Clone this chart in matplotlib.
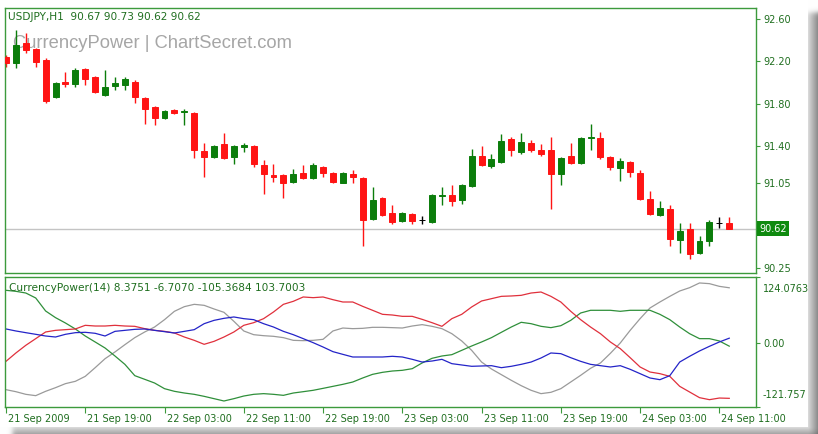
import numpy as np
import matplotlib.pyplot as plt
from matplotlib.transforms import ScaledTranslation, blended_transform_factory

# USDJPY H1 candles
opens = [92.24, 92.18, 92.37, 92.32, 92.21, 91.86, 92.01, 91.99, 92.13, 92.05,
         91.88, 91.97, 91.98, 92.01, 91.85, 91.77, 91.67, 91.74, 91.72, 91.71,
         91.35, 91.30, 91.42, 91.30, 91.39, 91.40, 91.22, 91.13, 91.13, 91.06,
         91.15, 91.10, 91.20, 91.15, 91.05, 91.14, 91.10, 90.71, 90.91, 90.77,
         90.69, 90.76, 90.70, 90.68, 90.93, 90.94, 90.89, 91.02, 91.31, 91.21,
         91.25, 91.47, 91.34, 91.43, 91.36, 91.36, 91.14, 91.31, 91.24, 91.48,
         91.48, 91.30, 91.19, 91.25, 91.15, 90.90, 90.75, 90.81, 90.51, 90.62,
         90.39, 90.50, 90.67, 90.67]
highs = [92.26, 92.50, 92.47, 92.33, 92.23, 92.01, 92.10, 92.14, 92.14, 92.06,
         92.12, 92.05, 92.05, 92.02, 91.86, 91.78, 91.74, 91.75, 91.75, 91.72,
         91.43, 91.41, 91.52, 91.41, 91.43, 91.41, 91.27, 91.23, 91.14, 91.18,
         91.22, 91.24, 91.21, 91.16, 91.16, 91.17, 91.11, 91.01, 90.92, 90.84,
         90.78, 90.77, 90.74, 90.95, 91.01, 91.03, 91.04, 91.37, 91.40, 91.33,
         91.51, 91.49, 91.52, 91.46, 91.42, 91.49, 91.30, 91.43, 91.49, 91.61,
         91.53, 91.31, 91.29, 91.26, 91.17, 90.98, 90.88, 90.84, 90.67, 90.67,
         90.55, 90.70, 90.73, 90.73]
lows = [92.15, 92.14, 92.28, 92.15, 91.81, 91.85, 91.96, 91.96, 91.98, 91.90,
        91.87, 91.93, 91.93, 91.81, 91.61, 91.60, 91.66, 91.70, 91.60, 91.29,
        91.11, 91.29, 91.28, 91.23, 91.34, 91.20, 90.95, 91.06, 90.91, 91.05,
        91.09, 91.09, 91.11, 91.05, 91.05, 91.05, 90.46, 90.70, 90.74, 90.66,
        90.68, 90.66, 90.66, 90.67, 90.84, 90.83, 90.85, 91.01, 91.21, 91.19,
        91.24, 91.31, 91.33, 91.34, 91.31, 90.81, 91.03, 91.23, 91.23, 91.36,
        91.28, 91.17, 91.07, 91.11, 90.89, 90.75, 90.74, 90.46, 90.39, 90.33,
        90.38, 90.46, 90.63, 90.62]
closes = [92.18, 92.35, 92.31, 92.19, 91.83, 92.00, 91.99, 92.12, 92.03, 91.91,
          91.96, 92.00, 92.03, 91.86, 91.75, 91.67, 91.73, 91.71, 91.73, 91.36,
          91.30, 91.40, 91.29, 91.40, 91.41, 91.23, 91.14, 91.11, 91.05, 91.14,
          91.10, 91.22, 91.15, 91.06, 91.15, 91.11, 90.70, 90.89, 90.75, 90.68,
          90.77, 90.69, 90.70, 90.94, 90.94, 90.88, 91.03, 91.31, 91.22, 91.28,
          91.45, 91.36, 91.44, 91.36, 91.33, 91.14, 91.29, 91.24, 91.48, 91.49,
          91.30, 91.20, 91.26, 91.16, 90.90, 90.76, 90.82, 90.52, 90.60, 90.38,
          90.50, 90.68, 90.67, 90.62]

time_labels = ["21 Sep 2009", "21 Sep 19:00", "22 Sep 03:00", "22 Sep 11:00",
               "22 Sep 19:00", "23 Sep 03:00", "23 Sep 11:00", "23 Sep 19:00",
               "24 Sep 03:00", "24 Sep 11:00"]
label_step = 8

price_ticks = [92.60, 92.20, 91.80, 91.40, 91.05, 90.25]

# CurrencyPower(14) buffers
cp_blue = [25.8, 22.0, 18.8, 15.7, 12.5, 10.6, 15.7, 18.8, 19.5, 17.6,
           12.5, 21.3, 23.2, 25.1, 25.8, 23.2, 20.7, 18.2, 21.3, 24.5,
           35.8, 42.1, 45.9, 48.5, 45.3, 43.4, 35.8, 29.5, 21.3, 15.0,
           7.5, -0.1, -8.3, -17.1, -22.2, -27.2, -27.2, -27.2, -27.2, -25.9,
           -27.2, -31.6, -36.7, -34.8, -31.6, -39.8, -42.3, -44.8, -44.2, -43.6,
           -47.4, -44.8, -41.1, -36.7, -29.1, -19.6, -20.9, -28.5, -35.4, -41.1,
           -43.6, -46.1, -43.6, -50.5, -58.7, -66.9, -70.1, -62.5, -36.7, -25.9,
           -15.8, -7.0, 1.2, 8.3751]
cp_green = [98.9, 97.0, 93.8, 84.4, 59.8, 47.2, 37.1, 25.8, 12.5, 1.2,
            -10.2, -25.3, -41.1, -62.5, -69.4, -76.4, -87.1, -92.1, -95.3, -97.8,
            -101.6, -106.0, -110.4, -106.0, -101.0, -97.8, -96.5, -97.8, -99.7, -95.3,
            -92.8, -90.2, -86.5, -82.7, -78.9, -74.5, -66.9, -60.0, -56.2, -53.7,
            -52.4, -49.3, -38.5, -29.7, -25.3, -22.8, -14.6, -6.4, 1.2, 9.4,
            19.5, 29.5, 38.4, 35.8, 30.8, 28.3, 32.0, 42.1, 56.0, 61.1,
            61.1, 61.1, 59.2, 61.1, 61.1, 61.1, 53.5, 43.4, 29.5, 16.9,
            7.5, 7.5, 3.1, -6.7070]
cp_red = [-35.4, -19.6, -5.1, 7.5, 20.1, 23.2, 24.5, 25.8, 32.7, 31.4,
          31.4, 32.7, 31.4, 30.8, 26.4, 23.2, 21.3, 18.2, 10.6, 4.3,
          -3.2, 2.4, 10.6, 20.1, 32.7, 37.7, 45.3, 57.9, 72.4, 78.1,
          86.3, 85.0, 86.3, 81.2, 76.8, 76.8, 68.6, 61.1, 53.5, 52.2,
          49.7, 49.7, 44.0, 37.7, 30.8, 45.3, 53.5, 67.4, 78.7, 83.1,
          87.5, 88.2, 89.4, 93.8, 95.7, 87.5, 76.8, 59.2, 43.4, 29.5,
          16.9, 1.2, -11.4, -28.5, -46.1, -55.6, -58.7, -63.8, -82.7, -93.4,
          -104.1, -107.9, -104.8, -105.3684]
cp_gray = [-89.0, -92.8, -97.8, -100.3, -92.1, -85.2, -77.6, -73.2, -63.8, -47.4,
           -30.4, -17.7, -3.9, 9.4, 20.1, 29.5, 43.4, 59.2, 68.0, 72.4,
           70.5, 63.6, 57.3, 40.3, 22.0, 15.0, 13.1, 11.9, 9.4, 4.3,
           3.7, 4.3, 6.2, 22.0, 27.6, 26.4, 27.0, 28.9, 28.9, 28.3,
           27.6, 31.4, 34.0, 30.8, 26.4, 16.9, 3.1, -14.6, -36.7, -49.9,
           -60.6, -71.3, -81.4, -90.2, -96.5, -94.0, -87.1, -74.5, -61.9, -48.6,
           -38.5, -20.3, -0.7, 23.2, 45.3, 65.5, 76.8, 87.5, 97.6, 103.9,
           112.8, 111.5, 106.4, 103.7003]
cp_max, cp_min = 124.0763, -121.757

frame_col = '#3c9a3c'
text_col = '#1f6e1f'
up_col = '#0b7d0b'
down_col = '#ff1414'

W, H = 818, 434
fig = plt.figure(figsize=(W / 100, H / 100), dpi=100)
fig.patch.set_facecolor('white')

ax = fig.add_axes([5 / W, 1 - 273 / H, 751 / W, 265 / H])
ax2 = fig.add_axes([5 / W, 1 - 407 / H, 751 / W, 130 / H], sharex=ax)

# candles
x = np.arange(len(opens))
o = np.array(opens)
c = np.array(closes)
cols = np.where(c > o, up_col, np.where(c < o, down_col, 'black'))
ax.vlines(x, lows, highs, colors=cols, linewidth=1, zorder=2)
ax.bar(x, np.abs(c - o), width=0.6, bottom=np.minimum(o, c), color=cols,
       edgecolor=cols, linewidth=0.7, zorder=3)

# bid line
ax.axhline(closes[-1], color='#c4c4c4', linewidth=1, zorder=1)

ax.set_xlim(-0.1, 75.7)
ax.set_ylim(90.202, 92.704)

for a in (ax, ax2):
    for s in a.spines.values():
        s.set_color(frame_col)
        s.set_linewidth(1)
    a.yaxis.tick_right()
    a.tick_params(axis='y', length=3, width=0.8, color=frame_col,
                  labelcolor=text_col, labelsize=7, pad=2)

ax.set_yticks(price_ticks)
ax.set_yticklabels(['%.2f' % v for v in price_ticks])
ax.tick_params(axis='x', bottom=False, labelbottom=False)

# current price box
tr = blended_transform_factory(ax.transAxes, ax.transData)
ax.text(1.004, closes[-1], '%.2f' % closes[-1], transform=tr, color='white',
        fontsize=7, va='center', ha='left', clip_on=False,
        bbox=dict(facecolor='#0f8a0f', edgecolor='none', pad=1.6))

ax.text(13 / W, 1 - 43 / H, 'CurrencyPower | ChartSecret.com', transform=fig.transFigure,
        color='#a6a6a6', fontsize=13.2, family='Liberation Sans', va='center',
        ha='left', zorder=0.5)

fig.text(8 / W, 1 - 17 / H, 'USDJPY,H1  %.2f %.2f %.2f %.2f'
         % (opens[-1], highs[-1], lows[-1], closes[-1]),
         color=text_col, fontsize=7.6, va='center', ha='left')

# indicator window
ax2.plot(x, cp_gray, color='#9a9a9a', linewidth=0.9)
ax2.plot(x, cp_green, color='#2f8f3a', linewidth=0.9)
ax2.plot(x, cp_red, color='#e0303c', linewidth=0.9)
ax2.plot(x, cp_blue, color='#2424c8', linewidth=0.9)
ax2.set_ylim(cp_min, cp_max)
ax2.set_yticks([cp_max, 0, cp_min])
ax2.set_yticklabels(['124.0763', '0.00', '-121.757'])
lbls = ax2.get_yticklabels()
lbls[0].set_transform(lbls[0].get_transform() + ScaledTranslation(0, -8 / 72, fig.dpi_scale_trans))
lbls[2].set_transform(lbls[2].get_transform() + ScaledTranslation(0, 9 / 72, fig.dpi_scale_trans))

ticks = list(range(0, len(opens), label_step))
ax2.set_xticks(ticks)
ax2.set_xticklabels(time_labels, ha='left')
ax2.tick_params(axis='x', length=4, width=0.8, color=frame_col,
                labelcolor=text_col, labelsize=7, pad=1)
for t in ax2.get_xticklabels():
    t.set_transform(t.get_transform() + ScaledTranslation(1.5 / 72, 0, fig.dpi_scale_trans))

fig.text(9 / W, 1 - 288 / H, 'CurrencyPower(14) %.4f %.4f %.4f %.4f'
         % (cp_blue[-1], cp_green[-1], cp_red[-1], cp_gray[-1]),
         color=text_col, fontsize=7.6, va='center', ha='left')

# soft drop shadow around the chart card (right and bottom edges)
yy, xx = np.mgrid[0:H, 0:W]
step = lambda d: 0.5 * (1 + np.tanh(d / 3.0))
dx = np.clip(xx - 807, 0, None)
dy = np.clip(yy - 426, 0, None)
dist = np.sqrt(dx ** 2 + dy ** 2)
dark = (0.12 + 0.032 * dist) * step(yy - 12) * step(xx - 12)
card = (xx <= 807) & (yy <= 426)
rgba = np.ones((H, W, 4))
rgba[..., :3] = (1 - dark)[..., None]
rgba[..., 3] = np.where(card, 0.0, 1.0)
fig.figimage(rgba, 0, 0, origin='upper', zorder=10)

fig.savefig('out.png', dpi=100)
